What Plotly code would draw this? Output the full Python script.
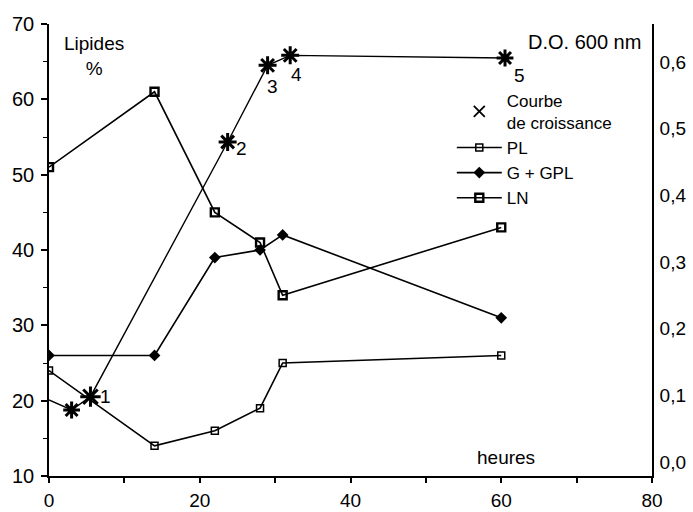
import plotly.graph_objects as go

hours = [0, 14, 22, 28, 31, 60]
pl = [24, 14, 16, 19, 25, 26]
g_gpl = [26, 26, 39, 40, 42, 31]
ln = [51, 61, 45, 41, 34, 43]

growth_hours = [0, 3, 5.5, 23.7, 29, 32, 60.5]
growth_od = [0.093, 0.078, 0.098, 0.48, 0.595, 0.61, 0.606]
growth_labels = ["", "", "1", "2", "3", "4", "5"]
label_offsets = [(0, 0), (0, 0), (15, 0), (14, 6), (5, 21), (6, 19), (14, 17)]

FONT = "Liberation Sans, Arial, Helvetica, sans-serif"
BLACK = "#000000"

fig = go.Figure()

fig.add_trace(go.Scatter(
    x=growth_hours, y=growth_od, yaxis="y2", mode="lines+markers",
    line=dict(color=BLACK, width=1.4),
    marker=dict(symbol="asterisk-open", size=[0, 14, 17, 15, 15, 15, 14], color=BLACK,
                opacity=1, line=dict(color=BLACK, width=3)),
    showlegend=False))

fig.add_trace(go.Scatter(
    x=[None], y=[None], mode="markers", name="Courbe<br>de croissance",
    marker=dict(symbol="x-thin-open", size=11, color=BLACK, line=dict(color=BLACK, width=1.8))))

fig.add_trace(go.Scatter(
    x=hours, y=pl, mode="lines+markers", name="PL",
    line=dict(color=BLACK, width=1.6),
    marker=dict(symbol="square-open", size=7, color=BLACK, line=dict(color=BLACK, width=1.5))))

fig.add_trace(go.Scatter(
    x=hours, y=g_gpl, mode="lines+markers", name="G + GPL",
    line=dict(color=BLACK, width=1.6),
    marker=dict(symbol="diamond", size=9, color=BLACK)))

fig.add_trace(go.Scatter(
    x=hours, y=ln, mode="lines+markers", name="LN",
    line=dict(color=BLACK, width=1.6),
    marker=dict(symbol="square-open", size=8, color=BLACK, line=dict(color=BLACK, width=2.4))))

annotations = []
for hx, od, lab, (dx, dy) in zip(growth_hours, growth_od, growth_labels, label_offsets):
    if lab:
        annotations.append(dict(x=hx, y=od, xref="x", yref="y2", text=lab,
                                showarrow=False, xshift=dx, yshift=-dy,
                                font=dict(size=19, color=BLACK, family=FONT)))

annotations += [
    dict(x=0.074, y=0.985, xref="paper", yref="paper", text="Lipides<br>%",
         xanchor="center", yanchor="top",
         showarrow=False, font=dict(size=19, color=BLACK, family=FONT), align="center"),
    dict(x=0.985, y=0.99, xref="paper", yref="paper", text="D.O. 600 nm",
         xanchor="right", yanchor="top",
         showarrow=False, font=dict(size=20, color=BLACK, family=FONT)),
    dict(x=0.758, y=0.04, xref="paper", yref="paper", text="heures",
         xanchor="center", yanchor="middle",
         showarrow=False, font=dict(size=19, color=BLACK, family=FONT)),
]

fig.update_layout(
    width=693, height=512,
    margin=dict(l=49, r=41, t=24, b=36),
    paper_bgcolor="white", plot_bgcolor="white",
    separators=", ",
    font=dict(family=FONT, size=19, color=BLACK),
    xaxis=dict(range=[0, 80], dtick=20, showgrid=False, zeroline=False, automargin=False,
               showline=True, linecolor=BLACK, linewidth=1.6,
               ticks="outside", ticklen=5, tickcolor=BLACK, tickwidth=1.5,
               minor=dict(dtick=10, ticks="outside", ticklen=5, tickcolor=BLACK, tickwidth=1.5),
               tickfont=dict(size=19), ticklabelstandoff=1),
    yaxis=dict(range=[10, 70], dtick=10, showgrid=False, zeroline=False, automargin=False,
               showline=True, linecolor=BLACK, linewidth=1.6,
               ticks="outside", ticklen=6, tickcolor=BLACK, tickwidth=1.5,
               minor=dict(dtick=5, ticks="outside", ticklen=4, tickcolor=BLACK, tickwidth=1.2),
               tickfont=dict(size=20), ticklabelstandoff=3),
    yaxis2=dict(range=[-0.021, 0.657], dtick=0.1, tickformat=".1f", overlaying="y",
                side="right", showgrid=False, zeroline=False, automargin=False,
                showline=True, linecolor=BLACK, linewidth=1.6, ticks="",
                tickfont=dict(size=19), ticklabelstandoff=2),
    legend=dict(x=0.668, y=0.87, xanchor="left", yanchor="top",
                bgcolor="rgba(0,0,0,0)", font=dict(size=17, family=FONT),
                tracegroupgap=0, itemwidth=45),
    annotations=annotations,
)

fig.write_html("out.html")
